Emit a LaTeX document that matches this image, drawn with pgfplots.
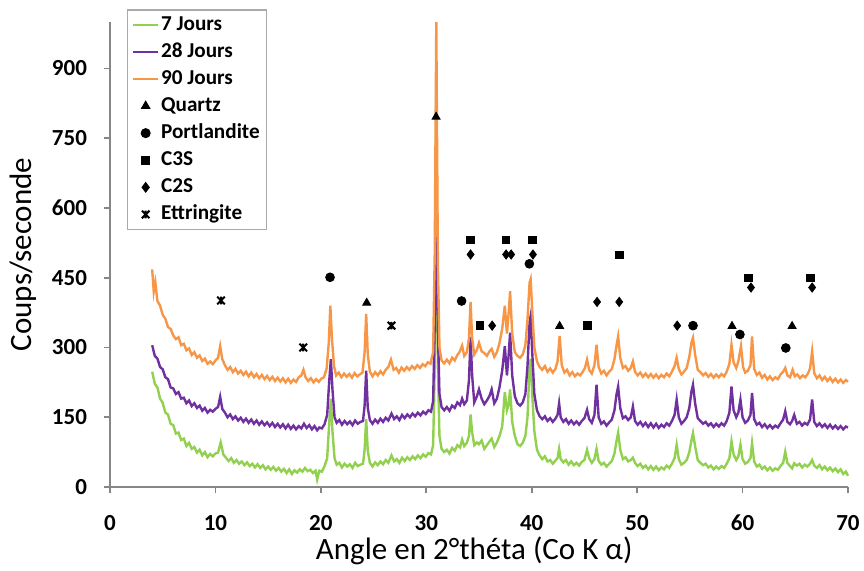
\documentclass[border=0pt]{standalone}
\usepackage{pgfplots}
\pgfplotsset{compat=1.18}
\usepackage{fontspec}
\setmainfont{Carlito}
\definecolor{cgreen}{HTML}{92D050}
\definecolor{cpurple}{HTML}{7030A0}
\definecolor{corange}{HTML}{F79646}
\definecolor{caxis}{HTML}{868686}
\pgfdeclareplotmark{xstar}{%
 \pgfpathmoveto{\pgfqpoint{-\pgfplotmarksize}{-\pgfplotmarksize}}%
 \pgfpathlineto{\pgfqpoint{\pgfplotmarksize}{\pgfplotmarksize}}%
 \pgfpathmoveto{\pgfqpoint{-\pgfplotmarksize}{\pgfplotmarksize}}%
 \pgfpathlineto{\pgfqpoint{\pgfplotmarksize}{-\pgfplotmarksize}}%
 \pgfpathmoveto{\pgfqpoint{0pt}{-\pgfplotmarksize}}%
 \pgfpathlineto{\pgfqpoint{0pt}{\pgfplotmarksize}}%
 \pgfusepathqstroke}
\pgfplotsset{
 linelegend/.style={legend image code/.code={\draw[##1,line width=0.9pt] (0pt,0pt) -- (12.5pt,0pt);}},
 marklegend/.style={legend image code/.code={\draw[##1] plot coordinates {(6.25pt,0pt)};}},
}
\begin{document}
\begin{tikzpicture}
\path[use as bounding box] (0,0) rectangle (432pt,285pt);
\begin{axis}[
 at={(55pt,41.5pt)}, anchor=south west,
 scale only axis, width=369pt, height=232.5pt,
 xmin=0, xmax=70, ymin=0, ymax=1000,
 axis x line=bottom, axis y line=left,
 axis line style={-, draw=caxis, line width=0.8pt},
 xtick={0,10,...,70}, ytick={0,150,...,900},
 tick align=outside, major tick length=3pt,
 tick style={draw=caxis, line width=0.8pt},
 /pgf/number format/assume math mode=true,
 tick label style={font=\fontsize{11.5}{13}\selectfont\bfseries},
 xticklabel style={yshift=-7.5pt},
 yticklabel style={xshift=-5pt},
 xlabel={Angle en 2°théta (Co K α)},
 ylabel={Coups/seconde},
 label style={font=\fontsize{15.5}{18}\selectfont},
 xlabel style={at={(axis description cs:0.4935,-0.1376)}, anchor=center},
 ylabel style={at={(axis description cs:-0.118,0.5)}, anchor=center},
 legend style={at={(0.0226,1.027)}, anchor=north west, draw=caxis!70, line width=0.6pt,
   font=\fontsize{10.6}{12}\selectfont\bfseries, inner xsep=2.5pt, inner ysep=1.5pt,
   nodes={inner sep=1pt, text height=7.5pt, text depth=2.2pt}, row sep=1.85pt},
 legend cell align=left,
 clip=false,
]
\addplot[cgreen, line width=1.2pt, linelegend] coordinates {
(4.00,248)(4.25,222)(4.50,214)(4.75,190)(5.00,181)(5.25,160)(5.50,156)(5.75,136)(6.00,133)(6.25,115)(6.50,117)(6.75,101)(7.00,104)(7.25,88)(7.50,95)(7.75,82)(8.00,86)(8.25,74)(8.50,80)(8.75,68)(9.00,75)(9.25,64)(9.50,71)(9.75,66)(10.00,72)(10.25,74)(10.50,96)(10.75,70)(11.00,63)(11.25,56)(11.50,62)(11.75,52)(12.00,58)(12.25,50)(12.50,55)(12.75,47)(13.00,53)(13.25,45)(13.50,50)(13.75,42)(14.00,49)(14.25,41)(14.50,47)(14.75,38)(15.00,44)(15.25,37)(15.50,43)(15.75,35)(16.00,41)(16.25,33)(16.50,39)(16.75,30)(17.00,38)(17.25,28)(17.50,36)(17.75,31)(18.00,38)(18.25,33)(18.50,41)(18.75,34)(19.00,37)(19.25,30)(19.50,35)(19.65,16)(19.85,35)(20.10,33)(20.35,45)(20.60,62)(20.80,140)(20.95,190)(21.10,120)(21.30,62)(21.50,48)(21.75,52)(22.00,42)(22.25,50)(22.50,44)(22.75,49)(23.00,41)(23.25,52)(23.50,45)(23.75,48)(24.00,50)(24.15,80)(24.30,146)(24.45,78)(24.65,52)(24.90,44)(25.15,53)(25.40,47)(25.65,55)(25.90,49)(26.15,58)(26.40,52)(26.70,68)(26.95,55)(27.20,60)(27.45,52)(27.70,63)(27.95,56)(28.20,64)(28.45,58)(28.70,66)(28.95,60)(29.20,68)(29.45,62)(29.70,70)(29.95,65)(30.20,73)(30.45,70)(30.65,90)(30.80,250)(30.95,880)(31.10,260)(31.25,110)(31.45,82)(31.70,75)(31.95,80)(32.20,72)(32.45,84)(32.70,78)(32.95,90)(33.20,85)(33.40,102)(33.60,88)(33.85,95)(34.05,110)(34.20,156)(34.35,118)(34.55,90)(34.80,96)(35.00,92)(35.25,100)(35.50,82)(35.75,90)(36.00,98)(36.20,104)(36.45,86)(36.70,96)(36.95,110)(37.20,130)(37.45,204)(37.65,165)(37.80,175)(37.95,210)(38.15,140)(38.40,110)(38.65,92)(38.90,88)(39.15,95)(39.40,110)(39.60,150)(39.80,260)(39.90,276)(40.05,200)(40.25,120)(40.50,80)(40.75,68)(41.00,60)(41.25,66)(41.50,55)(41.75,58)(42.00,50)(42.25,57)(42.45,62)(42.60,82)(42.75,60)(43.00,53)(43.25,58)(43.50,48)(43.75,55)(44.00,47)(44.25,52)(44.50,46)(44.75,54)(45.00,58)(45.25,80)(45.45,62)(45.70,52)(45.95,60)(46.15,82)(46.35,56)(46.60,48)(46.85,52)(47.10,44)(47.35,50)(47.60,56)(47.85,72)(48.05,100)(48.20,117)(48.40,80)(48.65,60)(48.90,64)(49.15,55)(49.40,58)(49.60,63)(49.80,52)(50.05,45)(50.30,50)(50.55,41)(50.80,46)(51.05,38)(51.30,45)(51.55,37)(51.80,44)(52.05,36)(52.30,42)(52.55,38)(52.80,46)(53.05,41)(53.30,50)(53.55,62)(53.75,91)(53.95,60)(54.20,48)(54.45,52)(54.70,58)(54.95,75)(55.15,100)(55.30,116)(55.50,88)(55.75,58)(56.00,52)(56.25,47)(56.50,50)(56.75,42)(57.00,46)(57.25,38)(57.50,44)(57.75,39)(58.00,45)(58.25,41)(58.50,50)(58.75,62)(58.95,98)(59.15,70)(59.40,58)(59.60,66)(59.80,91)(60.00,60)(60.25,50)(60.50,54)(60.75,62)(60.90,94)(61.10,55)(61.35,44)(61.60,48)(61.85,39)(62.10,44)(62.35,36)(62.60,42)(62.85,35)(63.10,40)(63.35,37)(63.60,45)(63.85,52)(64.05,76)(64.25,52)(64.50,45)(64.70,40)(64.90,51)(65.15,46)(65.40,50)(65.65,42)(65.90,48)(66.15,44)(66.40,50)(66.60,58)(66.80,46)(67.05,41)(67.30,47)(67.55,38)(67.80,44)(68.05,36)(68.30,42)(68.55,34)(68.80,40)(69.05,32)(69.30,38)(69.55,28)(69.80,33)(70.00,24)
};
\addlegendentry{7 Jours}
\addplot[cpurple, line width=1.2pt, linelegend] coordinates {
(4.00,305)(4.25,282)(4.50,276)(4.75,258)(5.00,253)(5.25,236)(5.50,232)(5.75,214)(6.00,212)(6.25,200)(6.50,204)(6.75,190)(7.00,192)(7.25,180)(7.50,186)(7.75,174)(8.00,180)(8.25,170)(8.50,175)(8.75,164)(9.00,170)(9.25,160)(9.50,166)(9.75,162)(10.00,168)(10.25,172)(10.45,194)(10.65,168)(10.90,160)(11.15,150)(11.40,156)(11.65,146)(11.90,152)(12.15,143)(12.40,149)(12.65,140)(12.90,147)(13.15,138)(13.40,145)(13.65,136)(13.90,143)(14.15,134)(14.40,141)(14.65,133)(14.90,139)(15.15,131)(15.40,138)(15.65,129)(15.90,136)(16.15,128)(16.40,135)(16.65,126)(16.90,134)(17.15,125)(17.40,132)(17.65,124)(17.90,131)(18.15,126)(18.40,136)(18.65,127)(18.90,133)(19.15,124)(19.40,131)(19.65,122)(19.85,128)(20.10,126)(20.35,135)(20.60,155)(20.80,230)(20.95,275)(21.10,210)(21.30,150)(21.50,138)(21.75,144)(22.00,134)(22.25,142)(22.50,135)(22.75,141)(23.00,133)(23.25,143)(23.50,136)(23.75,140)(24.00,142)(24.15,175)(24.30,250)(24.45,170)(24.65,144)(24.90,136)(25.15,145)(25.40,138)(25.65,147)(25.90,140)(26.15,149)(26.40,143)(26.70,158)(26.95,146)(27.20,152)(27.45,144)(27.70,155)(27.95,148)(28.20,156)(28.45,150)(28.70,158)(28.95,152)(29.20,160)(29.45,154)(29.70,162)(29.95,157)(30.20,165)(30.45,162)(30.65,185)(30.80,350)(30.95,700)(31.10,340)(31.25,200)(31.45,172)(31.70,165)(31.95,172)(32.20,164)(32.45,175)(32.70,170)(32.95,182)(33.20,176)(33.40,190)(33.60,178)(33.85,186)(34.05,230)(34.20,322)(34.35,240)(34.55,182)(34.80,195)(35.00,210)(35.25,190)(35.50,178)(35.75,186)(36.00,196)(36.20,210)(36.45,180)(36.70,190)(36.95,215)(37.20,250)(37.45,303)(37.65,240)(37.80,280)(37.95,332)(38.15,240)(38.40,195)(38.65,180)(38.90,175)(39.15,182)(39.40,200)(39.60,260)(39.80,355)(39.90,368)(40.05,290)(40.25,200)(40.50,165)(40.75,152)(41.00,146)(41.25,152)(41.50,142)(41.75,148)(42.00,140)(42.25,147)(42.45,155)(42.60,180)(42.75,150)(43.00,140)(43.25,146)(43.50,136)(43.75,143)(44.00,135)(44.25,141)(44.50,134)(44.75,142)(45.00,148)(45.25,166)(45.45,146)(45.70,138)(45.95,155)(46.15,220)(46.35,150)(46.60,136)(46.85,141)(47.10,132)(47.35,139)(47.60,145)(47.85,165)(48.05,200)(48.20,216)(48.40,170)(48.65,148)(48.90,152)(49.15,144)(49.40,150)(49.60,173)(49.80,142)(50.05,134)(50.30,140)(50.55,131)(50.80,138)(51.05,129)(51.30,137)(51.55,128)(51.80,136)(52.05,127)(52.30,134)(52.55,129)(52.80,137)(53.05,132)(53.30,142)(53.55,155)(53.75,188)(53.95,150)(54.20,136)(54.45,142)(54.70,150)(54.95,170)(55.15,205)(55.30,220)(55.50,180)(55.75,148)(56.00,142)(56.25,136)(56.50,140)(56.75,132)(57.00,137)(57.25,129)(57.50,136)(57.75,130)(58.00,137)(58.25,132)(58.50,142)(58.75,160)(58.95,216)(59.15,165)(59.40,150)(59.60,160)(59.80,188)(60.00,150)(60.25,138)(60.50,143)(60.75,155)(60.90,202)(61.10,146)(61.35,134)(61.60,138)(61.85,129)(62.10,135)(62.35,127)(62.60,133)(62.85,126)(63.10,132)(63.35,128)(63.60,137)(63.85,145)(64.05,163)(64.25,140)(64.50,135)(64.70,142)(64.90,155)(65.15,136)(65.40,140)(65.65,132)(65.90,138)(66.15,134)(66.40,145)(66.60,188)(66.80,140)(67.05,131)(67.30,137)(67.55,129)(67.80,135)(68.05,127)(68.30,134)(68.55,126)(68.80,132)(69.05,125)(69.30,131)(69.55,124)(69.80,130)(70.00,128)
};
\addlegendentry{28 Jours}
\addplot[corange, line width=1.2pt, linelegend] coordinates {
(4.00,468)(4.15,420)(4.30,440)(4.50,400)(4.75,390)(5.00,370)(5.25,362)(5.50,344)(5.75,340)(6.00,326)(6.25,318)(6.50,322)(6.75,305)(7.00,308)(7.25,294)(7.50,298)(7.75,284)(8.00,290)(8.25,278)(8.50,283)(8.75,271)(9.00,276)(9.25,265)(9.50,270)(9.75,264)(10.00,272)(10.25,278)(10.45,303)(10.65,275)(10.90,262)(11.15,252)(11.40,258)(11.65,247)(11.90,254)(12.15,244)(12.40,250)(12.65,241)(12.90,248)(13.15,238)(13.40,246)(13.65,236)(13.90,243)(14.15,234)(14.40,241)(14.65,232)(14.90,239)(15.15,230)(15.40,237)(15.65,228)(15.90,235)(16.15,227)(16.40,234)(16.65,225)(16.90,233)(17.15,224)(17.40,231)(17.65,226)(17.90,236)(18.15,240)(18.35,252)(18.55,236)(18.80,228)(19.05,234)(19.30,225)(19.55,232)(19.80,226)(20.05,233)(20.30,236)(20.55,255)(20.75,310)(20.90,390)(21.05,320)(21.25,260)(21.45,240)(21.70,246)(21.95,236)(22.20,244)(22.45,237)(22.70,243)(22.95,235)(23.20,245)(23.45,238)(23.70,242)(23.95,246)(24.15,290)(24.30,372)(24.45,285)(24.65,248)(24.90,238)(25.15,247)(25.40,240)(25.65,249)(25.90,242)(26.15,252)(26.40,258)(26.65,274)(26.90,252)(27.15,256)(27.40,246)(27.65,257)(27.90,250)(28.15,258)(28.40,252)(28.65,260)(28.90,254)(29.15,262)(29.40,256)(29.65,264)(29.90,260)(30.15,268)(30.40,265)(30.65,290)(30.80,500)(30.95,1000)(31.10,480)(31.25,300)(31.45,272)(31.70,266)(31.95,274)(32.20,266)(32.45,278)(32.70,272)(32.95,284)(33.15,290)(33.40,304)(33.60,282)(33.85,290)(34.05,320)(34.20,398)(34.35,320)(34.55,285)(34.80,295)(35.00,310)(35.25,292)(35.50,288)(35.75,282)(36.00,292)(36.20,297)(36.45,280)(36.70,290)(36.95,310)(37.20,340)(37.45,390)(37.65,330)(37.80,370)(37.95,421)(38.15,330)(38.40,290)(38.65,282)(38.90,278)(39.15,285)(39.40,305)(39.60,360)(39.80,440)(39.90,447)(40.05,380)(40.25,300)(40.50,270)(40.75,258)(41.00,252)(41.25,260)(41.50,248)(41.75,255)(42.00,246)(42.25,254)(42.45,270)(42.65,325)(42.85,262)(43.10,246)(43.35,252)(43.60,240)(43.85,247)(44.10,238)(44.35,244)(44.60,240)(44.85,248)(45.05,256)(45.25,274)(45.45,252)(45.70,244)(45.95,262)(46.15,306)(46.35,258)(46.60,244)(46.85,250)(47.10,240)(47.35,248)(47.60,254)(47.85,275)(48.05,305)(48.20,324)(48.40,278)(48.65,256)(48.90,260)(49.15,250)(49.40,256)(49.60,270)(49.80,248)(50.05,240)(50.30,246)(50.55,237)(50.80,244)(51.05,236)(51.30,243)(51.55,235)(51.80,242)(52.05,234)(52.30,241)(52.55,236)(52.80,244)(53.05,238)(53.30,248)(53.55,260)(53.75,278)(53.95,254)(54.20,242)(54.45,248)(54.70,256)(54.95,280)(55.15,310)(55.30,321)(55.50,285)(55.75,252)(56.00,247)(56.25,240)(56.50,245)(56.75,237)(57.00,243)(57.25,235)(57.50,242)(57.75,236)(58.00,243)(58.25,238)(58.50,248)(58.75,265)(58.95,306)(59.15,268)(59.40,256)(59.60,270)(59.85,303)(60.05,258)(60.25,246)(60.50,250)(60.75,262)(60.90,324)(61.10,254)(61.35,241)(61.60,246)(61.85,235)(62.10,241)(62.35,231)(62.60,238)(62.85,230)(63.10,236)(63.35,232)(63.60,242)(63.85,248)(64.05,256)(64.25,240)(64.50,236)(64.75,252)(64.95,238)(65.20,242)(65.45,234)(65.70,240)(65.95,236)(66.20,244)(66.40,255)(66.60,292)(66.80,245)(67.05,234)(67.30,240)(67.55,230)(67.80,237)(68.05,228)(68.30,235)(68.55,226)(68.80,233)(69.05,225)(69.30,231)(69.55,224)(69.80,230)(70.00,226)
};
\addlegendentry{90 Jours}
\addplot[only marks, mark=triangle*, mark size=2.3pt, black, marklegend] coordinates {
(30.93,796)(24.35,396)(42.65,346)(59.0,346)(64.7,346)
};
\addlegendentry{Quartz}
\addplot[only marks, mark=*, mark size=2.2pt, black, marklegend] coordinates {
(20.87,451)(33.35,400)(39.78,480)(55.3,347)(59.75,328)(64.1,299)
};
\addlegendentry{Portlandite}
\addplot[only marks, mark=square*, mark size=1.9pt, black, marklegend] coordinates {
(34.2,531)(37.57,531)(40.06,531)(35.1,347)(45.3,347)(48.3,499)(60.55,450)(66.45,450)
};
\addlegendentry{C3S}
\addplot[only marks, mark=diamond*, mark size=2.3pt, black, marklegend] coordinates {
(34.2,500)(37.57,500)(38.05,500)(40.12,500)(36.25,347)(46.2,398)(48.3,398)(53.8,347)(60.8,429)(66.6,429)
};
\addlegendentry{C2S}
\addplot[only marks, mark=xstar, mark size=1.9pt, black, mark options={line width=1pt}, marklegend] coordinates {
(10.53,401)(18.33,300)(26.7,347)
};
\addlegendentry{Ettringite}
\end{axis}
\end{tikzpicture}
\end{document}
